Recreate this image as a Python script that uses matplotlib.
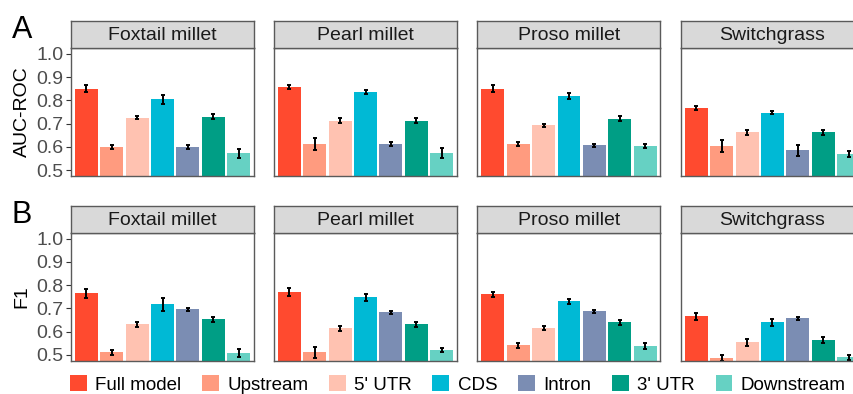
import matplotlib
matplotlib.use('Agg')
import matplotlib.pyplot as plt
from matplotlib.patches import Patch

plt.rcParams['font.family'] = ['Liberation Sans', 'DejaVu Sans']

species = ['Foxtail millet', 'Pearl millet', 'Proso millet', 'Switchgrass']
models = ['Full model', 'Upstream', "5' UTR", 'CDS', 'Intron', "3' UTR", 'Downstream']
colors = ['#FF4A2F', '#FF9B7F', '#FFC2B1', '#00B9D5', '#7B8DB3', '#009E85', '#66D1C3']

# AUC-ROC (panel A)
auc_foxtail = [0.849, 0.600, 0.726, 0.804, 0.600, 0.730, 0.573]
auc_pearl = [0.857, 0.612, 0.713, 0.836, 0.612, 0.713, 0.573]
auc_proso = [0.849, 0.612, 0.692, 0.819, 0.607, 0.722, 0.603]
auc_switch = [0.768, 0.603, 0.662, 0.747, 0.586, 0.662, 0.569]
auc_err_foxtail = [0.015, 0.008, 0.008, 0.020, 0.010, 0.012, 0.020]
auc_err_pearl = [0.010, 0.025, 0.010, 0.008, 0.007, 0.012, 0.022]
auc_err_proso = [0.015, 0.008, 0.008, 0.013, 0.007, 0.012, 0.008]
auc_err_switch = [0.008, 0.025, 0.012, 0.007, 0.024, 0.010, 0.012]

# F1 (panel B)
f1_foxtail = [0.764, 0.511, 0.631, 0.717, 0.696, 0.653, 0.507]
f1_pearl = [0.769, 0.511, 0.614, 0.747, 0.683, 0.631, 0.520]
f1_proso = [0.760, 0.541, 0.614, 0.730, 0.687, 0.640, 0.537]
f1_switch = [0.666, 0.486, 0.554, 0.640, 0.657, 0.563, 0.490]
f1_err_foxtail = [0.021, 0.010, 0.010, 0.029, 0.006, 0.010, 0.017]
f1_err_pearl = [0.018, 0.024, 0.012, 0.016, 0.006, 0.012, 0.008]
f1_err_proso = [0.012, 0.012, 0.008, 0.010, 0.008, 0.010, 0.012]
f1_err_switch = [0.015, 0.014, 0.014, 0.014, 0.006, 0.014, 0.010]

yticks = [0.5, 0.6, 0.7, 0.8, 0.9, 1.0]

rows = [
    ('AUC-ROC', 'A', [auc_foxtail, auc_pearl, auc_proso, auc_switch],
     [auc_err_foxtail, auc_err_pearl, auc_err_proso, auc_err_switch]),
    ('F1', 'B', [f1_foxtail, f1_pearl, f1_proso, f1_switch],
     [f1_err_foxtail, f1_err_pearl, f1_err_proso, f1_err_switch]),
]

W, H = 854, 394
fig = plt.figure(figsize=(W / 100, H / 100), dpi=100)

panel_left = [71, 274, 477.5, 681]
panel_w = 183
panel_h = 128
strip_h = 27
row_bottom = [176, 360.7]   # pixel y of panel bottom, from top
border = '#5A5A5A'
x = list(range(len(models)))

for r, (ylab, letter, vals, errs) in enumerate(rows):
    yb = (H - row_bottom[r]) / H
    for c, sp in enumerate(species):
        ax = fig.add_axes([panel_left[c] / W, yb, panel_w / W, panel_h / H])
        ax.bar(x, vals[c], width=0.9, color=colors)
        ax.errorbar(x, vals[c], yerr=errs[c], fmt='none', ecolor='black',
                    elinewidth=1.4, capsize=1.5, capthick=1.4)
        ax.set_xlim(-0.6, 6.6)
        ax.set_ylim(0.475, 1.025)
        ax.set_xticks([])
        ax.set_yticks(yticks)
        for s in ax.spines.values():
            s.set_color(border)
            s.set_linewidth(1.0)
        if c == 0:
            ax.set_yticklabels([f'{t:.1f}' for t in yticks], fontsize=14, color='#4D4D4D')
            ax.tick_params(axis='y', length=3.5, width=0.8, color='#333333', pad=2)
            ax.set_ylabel(ylab, fontsize=14, labelpad=4)
        else:
            ax.tick_params(axis='y', length=0, labelleft=False)

        st = fig.add_axes([panel_left[c] / W, yb + panel_h / H, panel_w / W, strip_h / H])
        st.set_facecolor('#D9D9D9')
        st.set_xticks([])
        st.set_yticks([])
        for s in st.spines.values():
            s.set_color(border)
            s.set_linewidth(1.0)
        st.text(0.5, 0.45, sp, ha='center', va='center', fontsize=14, color='#1A1A1A',
                transform=st.transAxes)

    fig.text(12 / W, (H - row_bottom[r] + panel_h + strip_h + 6) / H, letter,
             fontsize=22, ha='left', va='top')

handles = [Patch(facecolor=col, edgecolor='none') for col in colors]
fig.legend(handles, models, loc='center', bbox_to_anchor=(0.536, 0.024),
           ncol=7, frameon=False, fontsize=13.5, handlelength=0.9, handleheight=0.9,
           handletextpad=0.45, columnspacing=1.1, borderaxespad=0, borderpad=0)

fig.savefig('out.png', dpi=100)
